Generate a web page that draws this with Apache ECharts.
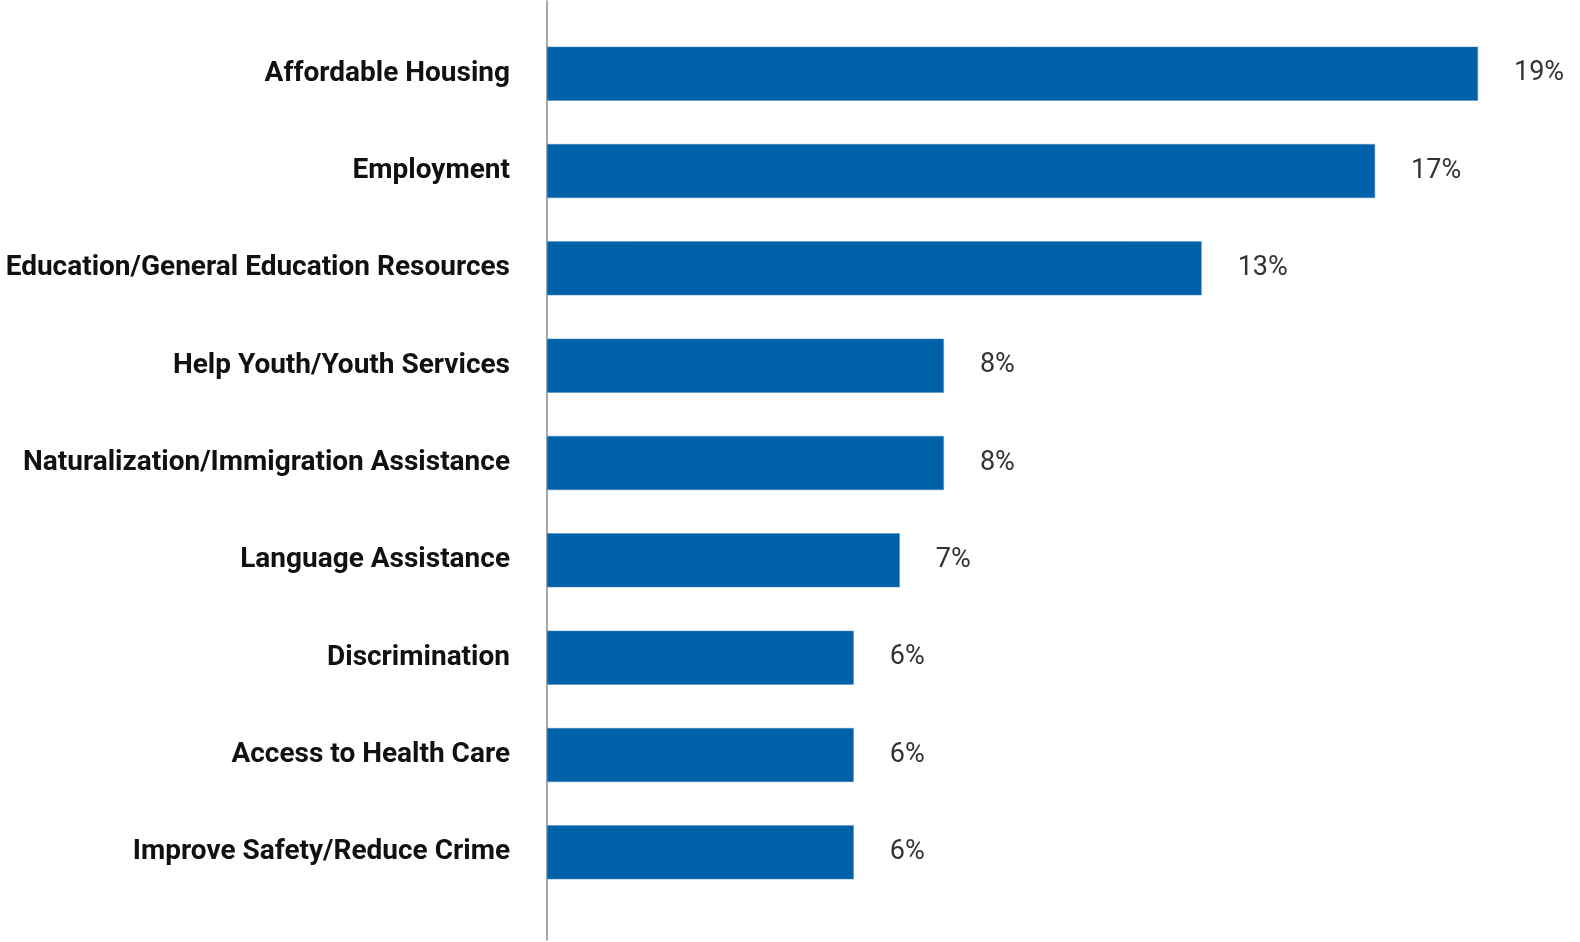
<!DOCTYPE html>
<html>
<head>
<meta charset="utf-8">
<script src="https://cdn.jsdelivr.net/npm/echarts@6/dist/echarts.min.js"></script>
<style>
html,body{margin:0;padding:0;background:#fff;}
#chart{width:1580px;height:942px;}
</style>
</head>
<body>
<div id="chart"></div>
<script>
const categories = [
  "Affordable Housing",
  "Employment",
  "Education/General Education Resources",
  "Help Youth/Youth Services",
  "Naturalization/Immigration Assistance",
  "Language Assistance",
  "Discrimination",
  "Access to Health Care",
  "Improve Safety/Reduce Crime"
];
const values = [19.0, 16.9, 13.36, 8.1, 8.1, 7.2, 6.26, 6.26, 6.26];

const chart = echarts.init(document.getElementById('chart'), null, {renderer: 'canvas'});
chart.setOption({
  animation: false,
  backgroundColor: '#ffffff',
  grid: [
    {left: 547, right: 53, top: 25, bottom: 41, containLabel: false},
    {left: 547, right: 53, top: 1, bottom: 2, containLabel: false}
  ],
  xAxis: [
    {gridIndex: 0, type: 'value', min: 0, max: 20, show: false},
    {gridIndex: 1, type: 'value', min: 0, max: 20, show: false}
  ],
  yAxis: [
    {
      gridIndex: 0,
      type: 'category',
      data: categories,
      inverse: true,
      axisLine: {show: false},
      axisTick: {show: false},
      axisLabel: {
        margin: 37,
        fontFamily: 'Roboto',
        fontWeight: 'bold',
        fontSize: 28,
        color: '#111111'
      }
    },
    {
      gridIndex: 1,
      type: 'value',
      min: 0, max: 1,
      axisLine: {show: true, lineStyle: {color: '#8a8a8a', width: 1.5}},
      axisTick: {show: false},
      axisLabel: {show: false},
      splitLine: {show: false}
    }
  ],
  series: [{
    type: 'bar',
    xAxisIndex: 0,
    yAxisIndex: 0,
    data: values,
    barWidth: 54,
    itemStyle: {color: '#0061A8', borderColor: '#4d8fc6', borderWidth: 0.5},
    label: {
      show: true,
      position: 'right',
      distance: 36,
      fontFamily: 'Roboto',
      fontSize: 27,
      color: '#333333',
      formatter: p => Math.round(p.value) + '%'
    }
  }]
});
</script>
</body>
</html>
